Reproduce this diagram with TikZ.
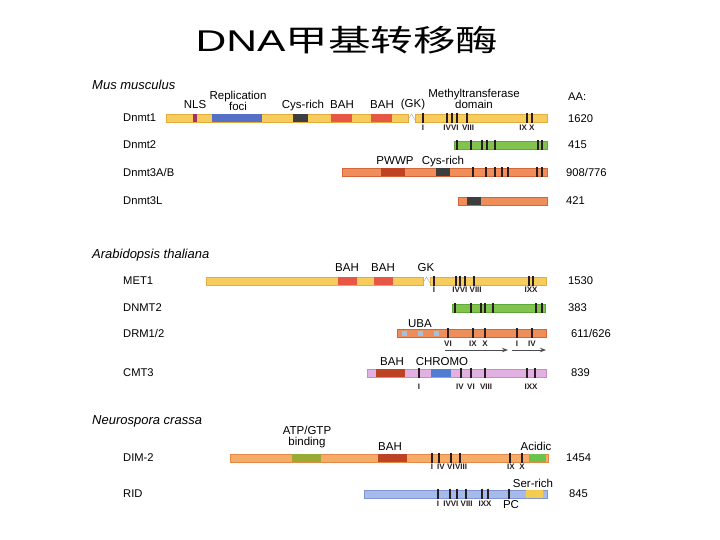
\documentclass[tikz,border=0pt]{standalone}
\usepackage{fontspec}
\setmainfont{Liberation Sans}
\newfontfamily\cjkfont{Noto Sans CJK SC}
\usepackage{xcolor}
\usetikzlibrary{arrows.meta}

\definecolor{yelbar}{RGB}{246,205,92}
\definecolor{yeledge}{RGB}{228,172,62}
\definecolor{grnbar}{RGB}{128,196,78}
\definecolor{grnedge}{RGB}{96,168,58}
\definecolor{orgbar}{RGB}{240,142,90}
\definecolor{orgedge}{RGB}{214,100,58}
\definecolor{orglt}{RGB}{246,172,104}
\definecolor{orgltedge}{RGB}{226,138,70}
\definecolor{pinkbar}{RGB}{226,176,226}
\definecolor{pinkedge}{RGB}{196,140,200}
\definecolor{ridbar}{RGB}{166,186,236}
\definecolor{ridedge}{RGB}{128,150,212}
\definecolor{bahred}{RGB}{232,86,70}
\definecolor{darkred}{RGB}{190,66,36}
\definecolor{fociblue}{RGB}{86,112,200}
\definecolor{chromoblue}{RGB}{80,124,210}
\definecolor{cysgray}{RGB}{62,62,62}
\definecolor{nlsmag}{RGB}{166,46,106}
\definecolor{atpolive}{RGB}{152,172,52}
\definecolor{acidgreen}{RGB}{110,194,76}
\definecolor{serylw}{RGB}{244,204,82}
\definecolor{ubadot}{RGB}{158,194,232}
\definecolor{tickc}{RGB}{40,30,34}

\begin{document}
\begin{tikzpicture}[
    x=1pt, y=-1pt,
    protbar/.style={line width=0.6pt},
    motif/.style={draw=tickc, line width=1.6pt},
    gkbreak/.style={draw=gray!60, line width=0.5pt},
    dlabel/.style={font=\fontsize{11.5}{11}\selectfont, inner sep=0pt, align=center},
    pname/.style={font=\fontsize{11.2}{12}\selectfont, anchor=west, inner sep=0pt},
    aalen/.style={font=\fontsize{11.2}{12}\selectfont, anchor=west, inner sep=0pt},
    species/.style={font=\fontsize{13}{14}\selectfont\itshape, anchor=west, inner sep=0pt},
    rom/.style={font=\fontsize{8}{8}\selectfont\bfseries, inner sep=0pt, text=tickc},
    span/.style={-{Stealth[length=6pt,width=4.5pt]}, draw=gray!60!black, line width=1pt}
]
\useasboundingbox (0,0) rectangle (720,540);

% --- title ---
\node[anchor=base, xscale=1.42, font=\fontsize{30}{32}\selectfont, inner sep=0pt] (title) at (347,52) {DNA{\cjkfont 甲基转移酶}};

% --- Mus musculus ---
\node[species] (mus) at (92,85) {Mus musculus};
\node[aalen] (aahead) at (568,97) {AA:};

% Dnmt1
\node[pname] (dnmt1) at (123,118) {Dnmt1};
\draw[protbar, fill=yelbar, draw=yeledge] (166,114) rectangle (408,122);
\draw[protbar, fill=yelbar, draw=yeledge] (415,114) rectangle (547,122);
\draw[gkbreak] (408,120) -- (411.5,114) -- (415,120);
\fill[nlsmag] (193,114.3) rectangle (197,121.7);
\fill[fociblue] (212,114.3) rectangle (262,121.7);
\fill[cysgray] (293,114.3) rectangle (308,121.7);
\fill[bahred] (331,114.3) rectangle (352,121.7);
\fill[bahred] (371,114.3) rectangle (392,121.7);
\foreach \m in {423,447,452,457,467,527,532}
    \draw[motif] (\m,113) -- (\m,123);
\node[dlabel, anchor=base] (nls) at (195,109) {NLS};
\node[dlabel] (foci) at (238,101) {Replication\\foci};
\node[dlabel, anchor=base] (cys1) at (303,109) {Cys-rich};
\node[dlabel, anchor=base] (bah1a) at (342,109) {BAH};
\node[dlabel, anchor=base] (bah1b) at (382,109) {BAH};
\node[dlabel, anchor=base] (gk1) at (413,108) {(GK)};
\node[dlabel] (mtase) at (474,98.5) {Methyltransferase\\domain};
\node[rom] (d1i) at (423,128) {I};
\node[rom] (d1ivvi) at (451,128) {IVVI};
\node[rom] (d1viii) at (468,128) {VIII};
\node[rom] (d1ixx) at (527,128) {IX X};
\node[aalen] (aa1) at (568,119) {1620};

% Dnmt2
\node[pname] (dnmt2) at (123,145) {Dnmt2};
\draw[protbar, fill=grnbar, draw=grnedge] (454,141) rectangle (547,149);
\foreach \m in {457,471,482,487,495,538,542}
    \draw[motif] (\m,140) -- (\m,150);
\node[aalen] (aa2) at (568,145) {415};

% Dnmt3A/B
\node[pname] (dnmt3ab) at (123,172) {Dnmt3A/B};
\draw[protbar, fill=orgbar, draw=orgedge] (342,168) rectangle (547,176);
\fill[darkred] (381,168.3) rectangle (405,175.7);
\fill[cysgray] (436,168.3) rectangle (450,175.7);
\foreach \m in {473,486,495,502,508,537,542}
    \draw[motif] (\m,167) -- (\m,177);
\node[dlabel, anchor=base] (pwwp) at (395,165) {PWWP};
\node[dlabel, anchor=base] (cys3) at (443,165) {Cys-rich};
\node[aalen] (aa3) at (566,172) {908/776};

% Dnmt3L
\node[pname] (dnmt3l) at (123,201) {Dnmt3L};
\draw[protbar, fill=orgbar, draw=orgedge] (458,197) rectangle (547,205);
\fill[cysgray] (467,197.3) rectangle (481,204.7);
\node[aalen] (aa4) at (566,201) {421};

% --- Arabidopsis thaliana ---
\node[species] (ara) at (92,255) {Arabidopsis thaliana};

% MET1
\node[pname] (met1) at (123,281) {MET1};
\draw[protbar, fill=yelbar, draw=yeledge] (206,277) rectangle (423,285);
\draw[protbar, fill=yelbar, draw=yeledge] (430,277) rectangle (546,285);
\draw[gkbreak] (423,283) -- (426.5,277) -- (430,283);
\fill[bahred] (338,277.3) rectangle (357,284.7);
\fill[bahred] (374,277.3) rectangle (393,284.7);
\foreach \m in {434,456,460,465,474,529,533}
    \draw[motif] (\m,276) -- (\m,286);
\node[dlabel, anchor=base] (bah2a) at (347,271) {BAH};
\node[dlabel, anchor=base] (bah2b) at (383,271) {BAH};
\node[dlabel, anchor=base] (gk2) at (426,271) {GK};
\node[rom] (m1i) at (434,290) {I};
\node[rom] (m1ivviii) at (467,290) {IVVI VIII};
\node[rom] (m1ixx) at (531,290) {IXX};
\node[aalen] (aa5) at (568,281) {1530};

% DNMT2
\node[pname] (dnmt2b) at (123,308) {DNMT2};
\draw[protbar, fill=grnbar, draw=grnedge] (452,304) rectangle (545,312);
\foreach \m in {455,471,481,485,493,536,542}
    \draw[motif] (\m,303) -- (\m,313);
\node[aalen] (aa6) at (568,308) {383};

% DRM1/2
\node[pname] (drm) at (123,333) {DRM1/2};
\draw[protbar, fill=orgbar, draw=orgedge] (397,329) rectangle (546,337);
\foreach \u in {404,420,436}
    \fill[ubadot] (\u-2.5,330.5) rectangle (\u+2.5,335.5);
\foreach \m in {448,473,485,517,532}
    \draw[motif] (\m,328) -- (\m,338);
\node[dlabel, anchor=base] (uba) at (420,327) {UBA};
\node[rom] (drvi) at (448,344) {VI};
\node[rom] (drix) at (473,344) {IX};
\node[rom] (drx) at (485,344) {X};
\node[rom] (dri) at (517,344) {I};
\node[rom] (driv) at (532,344) {IV};
\coordinate (sp1a) at (445,350);
\coordinate (sp1b) at (508,350);
\coordinate (sp2a) at (512,350);
\coordinate (sp2b) at (546,350);
\draw[span] (sp1a) -- (sp1b);
\draw[span] (sp2a) -- (sp2b);
\node[aalen] (aa7) at (571,333) {611/626};

% CMT3
\node[pname] (cmt3) at (123,373) {CMT3};
\draw[protbar, fill=pinkbar, draw=pinkedge] (367,369) rectangle (546,377);
\fill[darkred] (376,369.3) rectangle (405,376.7);
\fill[chromoblue] (431,369.3) rectangle (451,376.7);
\foreach \m in {419,461,471,485,527,535}
    \draw[motif] (\m,368) -- (\m,378);
\node[dlabel, anchor=base] (bah3) at (392,365) {BAH};
\node[dlabel, anchor=base] (chromo) at (442,365) {CHROMO};
\node[rom] (ci) at (419,387) {I};
\node[rom] (civ) at (460,387) {IV};
\node[rom] (cvi) at (471,387) {VI};
\node[rom] (cviii) at (486,387) {VIII};
\node[rom] (cixx) at (531,387) {IXX};
\node[aalen] (aa8) at (571,373) {839};

% --- Neurospora crassa ---
\node[species] (neu) at (92,421) {Neurospora crassa};

% DIM-2
\node[pname] (dim2) at (123,458) {DIM-2};
\draw[protbar, fill=orglt, draw=orgltedge] (230,454) rectangle (548,462);
\fill[atpolive] (292,454.3) rectangle (321,461.7);
\fill[darkred] (378,454.3) rectangle (407,461.7);
\fill[acidgreen] (529,454.3) rectangle (546,461.7);
\foreach \m in {432,439,451,460,510,522}
    \draw[motif] (\m,453) -- (\m,463);
\node[dlabel] (atp) at (307,437.5) {ATP/GTP\\binding};
\node[dlabel, anchor=base] (bah4) at (390,450) {BAH};
\node[dlabel, anchor=base] (acid) at (536,450) {Acidic};
\node[rom] (di) at (432,467) {I};
\node[rom] (div) at (441,467) {IV};
\node[rom] (dvi) at (451,467) {VI};
\node[rom] (dviii) at (461,467) {VIII};
\node[rom] (dix) at (511,467) {IX};
\node[rom] (dx) at (522,467) {X};
\node[aalen] (aa9) at (566,458) {1454};

% RID
\node[pname] (rid) at (123,494) {RID};
\draw[protbar, fill=ridbar, draw=ridedge] (364,490) rectangle (547,498);
\fill[serylw] (526,490.3) rectangle (543,497.7);
\foreach \m in {438,450,457,466,482,488,509}
    \draw[motif] (\m,489) -- (\m,499);
\node[dlabel, anchor=base] (ser) at (533,487) {Ser-rich};
\node[rom] (ri) at (438,504) {I};
\node[rom] (rivviii) at (458,504) {IVVI VIII};
\node[rom] (rixx) at (485,504) {IXX};
\node[dlabel] (pc) at (511,505) {PC};
\node[aalen] (aa10) at (569,494) {845};

\end{tikzpicture}
\end{document}
